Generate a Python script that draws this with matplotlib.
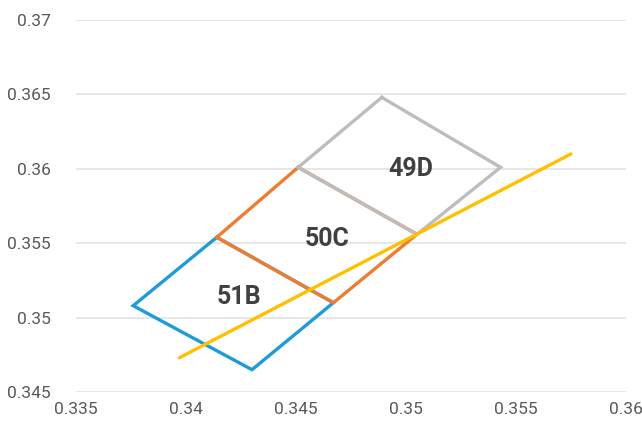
import matplotlib
matplotlib.use("Agg")
import matplotlib.pyplot as plt

# Quadrangle vertices (x, y chromaticity)
bin_51B_x = [0.3414, 0.3376, 0.3430, 0.3467, 0.3414]
bin_51B_y = [0.3554, 0.3508, 0.3465, 0.3510, 0.3554]
bin_50C_x = [0.3451, 0.3414, 0.3467, 0.3505, 0.3451]
bin_50C_y = [0.3601, 0.3554, 0.3510, 0.3556, 0.3601]
bin_49D_x = [0.3489, 0.3451, 0.3505, 0.3543, 0.3489]
bin_49D_y = [0.3648, 0.3601, 0.3556, 0.3601, 0.3648]
locus_x = [0.3397, 0.3575]
locus_y = [0.3473, 0.3610]

labels = ["51B", "50C", "49D"]
label_x = [0.3424, 0.3464, 0.3502]
label_y = [0.3514, 0.3553, 0.3600]

xticks = [0.335, 0.34, 0.345, 0.35, 0.355, 0.36]
yticks = [0.345, 0.35, 0.355, 0.36, 0.365, 0.37]

plt.rcParams['font.family'] = ['Roboto', 'DejaVu Sans']

fig = plt.figure(figsize=(6.42, 4.25), dpi=100)
ax = fig.add_axes([0.1184, 0.0776, 0.8566, 0.8753])

lw = 2.4
ax.plot(bin_51B_x, bin_51B_y, color='#1F9BD7', lw=lw, solid_joinstyle='miter', zorder=3)
ax.plot(bin_50C_x, bin_50C_y, color='#ED7D31', lw=lw, solid_joinstyle='miter', zorder=4)
ax.plot(bin_49D_x, bin_49D_y, color='#BDBDBD', lw=lw, solid_joinstyle='miter', zorder=5)
ax.plot(locus_x, locus_y, color='#FFC000', lw=lw, solid_capstyle='round', zorder=6)

for t, x, y in zip(labels, label_x, label_y):
    ax.text(x, y, t, ha='center', va='center', fontsize=18, fontweight='bold',
            color='#404040', zorder=7)

ax.set_xlim(0.335, 0.36)
ax.set_ylim(0.345, 0.37)
ax.set_xticks(xticks)
ax.set_yticks(yticks)
ax.set_xticklabels(['%g' % v for v in xticks])
ax.set_yticklabels(['%g' % v for v in yticks])
ax.tick_params(axis='both', length=0, labelsize=12.5, labelcolor='#595959')
ax.tick_params(axis='x', pad=7)
ax.tick_params(axis='y', pad=18)
ax.grid(axis='y', color='#E3E3E3', lw=1.2, zorder=0)
ax.set_axisbelow(True)
for s in ax.spines.values():
    s.set_visible(False)

fig.savefig('out.png', dpi=100)
